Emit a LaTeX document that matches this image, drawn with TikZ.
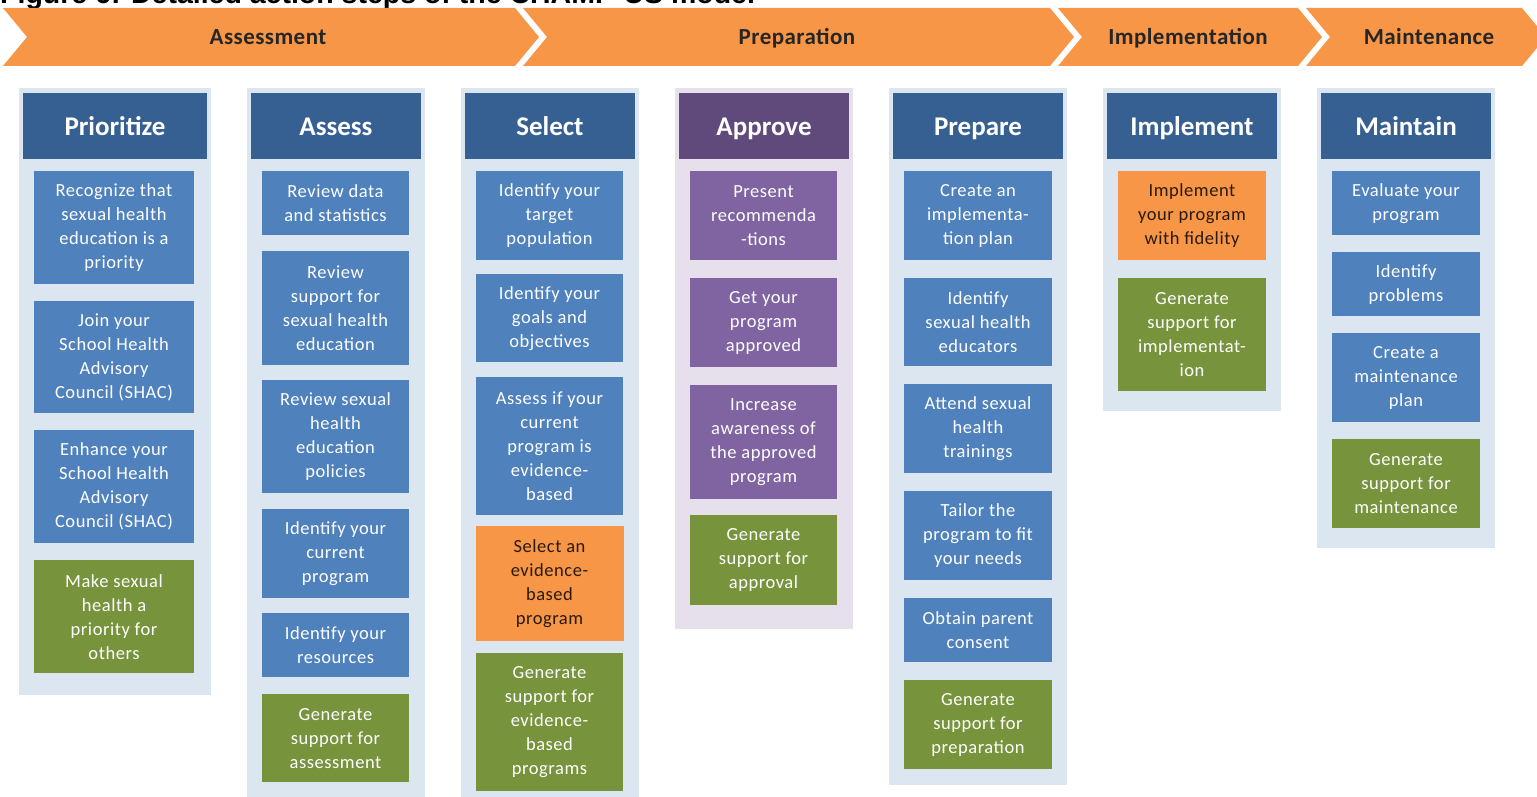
\documentclass[tikz,border=0pt]{standalone}
\usepackage{fontspec}
\setmainfont{Carlito}
\newfontfamily\figtitle{Liberation Sans}
\newfontfamily\stepfont{Carlito}[LetterSpace=3]
\newfontfamily\bannerfont{Carlito}[LetterSpace=2]
\usepackage{xcolor}
\usepackage{tikz}
\usetikzlibrary{calc}

\definecolor{bannerorange}{HTML}{F79646}
\definecolor{headblue}{HTML}{376092}
\definecolor{stepblue}{HTML}{4F81BD}
\definecolor{paneblue}{HTML}{DCE6F1}
\definecolor{stepgreen}{HTML}{77933C}
\definecolor{steppurple}{HTML}{8064A2}
\definecolor{headpurple}{HTML}{604A7B}
\definecolor{panepurple}{HTML}{E5E0EC}
\definecolor{darktext}{HTML}{2A1A0A}

\begin{document}
\begin{tikzpicture}[x=1pt,y=-1pt,
    banner/.style={fill=bannerorange},
    bannertext/.style={text=black!85,font=\fontsize{23}{26}\bannerfont\bfseries,
      text height=19pt,text depth=4pt},
    pane/.style={fill=paneblue},
    headbox/.style={fill=headblue,text=white,anchor=north,inner sep=0pt,
      minimum height=66pt,text height=24pt,text depth=5pt,
      font=\fontsize{27}{30}\selectfont\bfseries},
    stepbox/.style={fill=stepblue,text=white,anchor=north,inner sep=0pt,
      align=center,font=\fontsize{18.5}{24}\stepfont},
    greenbox/.style={stepbox,fill=stepgreen},
    orangebox/.style={stepbox,fill=bannerorange,text=darktext},
    purplebox/.style={stepbox,fill=steppurple}]
    \useasboundingbox (0,0) rectangle (1537,797);

    % cut-off figure title
    \node [anchor=base west,inner sep=0pt,font=\fontsize{28.5}{30}\figtitle\bfseries] (figtitle) at (0,4) {Figure 6: Detailed action steps of the CHAMP-US model};

    % phase banner
    \fill [banner] (3,8) -- (515,8) -- (539,37) -- (515,66) -- (3,66) -- (27,37) -- cycle;
    \fill [banner] (523,8) -- (1050,8) -- (1074,37) -- (1050,66) -- (523,66) -- (547,37) -- cycle;
    \fill [banner] (1058,8) -- (1298,8) -- (1322,37) -- (1298,66) -- (1058,66) -- (1082,37) -- cycle;
    \fill [banner] (1306,8) -- (1522,8) -- (1546,37) -- (1522,66) -- (1306,66) -- (1330,37) -- cycle;
    \node [bannertext] (assessment) at (268,37) {Assessment};
    \node [bannertext] (preparation) at (797,37) {Preparation};
    \node [bannertext] (implementation) at (1188,37) {Implementation};
    \node [bannertext] (maintenance) at (1429,37) {Maintenance};

    % column panels
    \fill [pane] (19,88) rectangle (211,695);
    \fill [pane] (247,88) rectangle (425,797);
    \fill [pane] (461,88) rectangle (639,797);
    \fill [panepurple] (675,88) rectangle (853,629);
    \fill [pane] (889,88) rectangle (1067,785);
    \fill [pane] (1103,88) rectangle (1281,411);
    \fill [pane] (1317,88) rectangle (1495,548);

    % Prioritize
    \node [headbox,minimum width=184pt] (prioritize) at (115,93) {Prioritize};
    \node [stepbox,minimum width=160pt,minimum height=113pt] (pri1) at (114,171) {Recognize that\\sexual health\\education is a\\priority};
    \node [stepbox,minimum width=160pt,minimum height=112pt] (pri2) at (114,301) {Join your\\School Health\\Advisory\\Council (SHAC)};
    \node [stepbox,minimum width=160pt,minimum height=113pt] (pri3) at (114,430) {Enhance your\\School Health\\Advisory\\Council (SHAC)};
    \node [greenbox,minimum width=160pt,minimum height=113pt] (pri4) at (114,560) {Make sexual\\health a\\priority for\\others};

    % Assess
    \node [headbox,minimum width=170pt] (assess) at (336,93) {Assess};
    \node [stepbox,minimum width=147pt,minimum height=64pt] (ass1) at (335.5,171) {Review data\\and statistics};
    \node [stepbox,minimum width=147pt,minimum height=114pt] (ass2) at (335.5,251) {Review\\support for\\sexual health\\education};
    \node [stepbox,minimum width=147pt,minimum height=113pt] (ass3) at (335.5,380) {Review sexual\\health\\education\\policies};
    \node [stepbox,minimum width=147pt,minimum height=89pt] (ass4) at (335.5,509) {Identify your\\current\\program};
    \node [stepbox,minimum width=147pt,minimum height=64pt] (ass5) at (335.5,613) {Identify your\\resources};
    \node [greenbox,minimum width=147pt,minimum height=88pt] (ass6) at (335.5,694) {Generate\\support for\\assessment};

    % Select
    \node [headbox,minimum width=170pt] (select) at (550,93) {Select};
    \node [stepbox,minimum width=147pt,minimum height=89pt] (sel1) at (549.5,171) {Identify your\\target\\population};
    \node [stepbox,minimum width=147pt,minimum height=88pt] (sel2) at (549.5,274) {Identify your\\goals and\\objectives};
    \node [stepbox,minimum width=147pt,minimum height=138pt] (sel3) at (549.5,377) {Assess if your\\current\\program is\\evidence-\\based};
    \node [orangebox,minimum width=148pt,minimum height=115pt] (sel4) at (549.5,526) {Select an\\evidence-\\based\\program};
    \node [greenbox,minimum width=147pt,minimum height=138pt] (sel5) at (549.5,653) {Generate\\support for\\evidence-\\based\\programs};

    % Approve
    \node [headbox,fill=headpurple,minimum width=170pt] (approve) at (764,93) {Approve};
    \node [purplebox,minimum width=147pt,minimum height=89pt] (app1) at (763.5,171) {Present\\recommenda\\-tions};
    \node [purplebox,minimum width=147pt,minimum height=89pt] (app2) at (763.5,278) {Get your\\program\\approved};
    \node [purplebox,minimum width=147pt,minimum height=114pt] (app3) at (763.5,385) {Increase\\awareness of\\the approved\\program};
    \node [greenbox,minimum width=147pt,minimum height=90pt] (app4) at (763.5,515) {Generate\\support for\\approval};

    % Prepare
    \node [headbox,minimum width=170pt] (prepare) at (978,93) {Prepare};
    \node [stepbox,minimum width=148pt,minimum height=89pt] (pre1) at (978,171) {Create an\\implementa-\\tion plan};
    \node [stepbox,minimum width=148pt,minimum height=88pt] (pre2) at (978,278) {Identify\\sexual health\\educators};
    \node [stepbox,minimum width=148pt,minimum height=89pt] (pre3) at (978,384) {Attend sexual\\health\\trainings};
    \node [stepbox,minimum width=148pt,minimum height=89pt] (pre4) at (978,491) {Tailor the\\program to fit\\your needs};
    \node [stepbox,minimum width=148pt,minimum height=64pt] (pre5) at (978,598) {Obtain parent\\consent};
    \node [greenbox,minimum width=148pt,minimum height=89pt] (pre6) at (978,680) {Generate\\support for\\preparation};

    % Implement
    \node [headbox,minimum width=170pt] (implement) at (1192,93) {Implement};
    \node [orangebox,minimum width=148pt,minimum height=89pt] (imp1) at (1192,171) {Implement\\your program\\with fidelity};
    \node [greenbox,minimum width=148pt,minimum height=113pt] (imp2) at (1192,278) {Generate\\support for\\implementat-\\ion};

    % Maintain
    \node [headbox,minimum width=170pt] (maintain) at (1406,93) {Maintain};
    \node [stepbox,minimum width=148pt,minimum height=64pt] (mai1) at (1406,171) {Evaluate your\\program};
    \node [stepbox,minimum width=148pt,minimum height=64pt] (mai2) at (1406,252) {Identify\\problems};
    \node [stepbox,minimum width=148pt,minimum height=89pt] (mai3) at (1406,333) {Create a\\maintenance\\plan};
    \node [greenbox,minimum width=148pt,minimum height=89pt] (mai4) at (1406,439) {Generate\\support for\\maintenance};
\end{tikzpicture}
\end{document}
